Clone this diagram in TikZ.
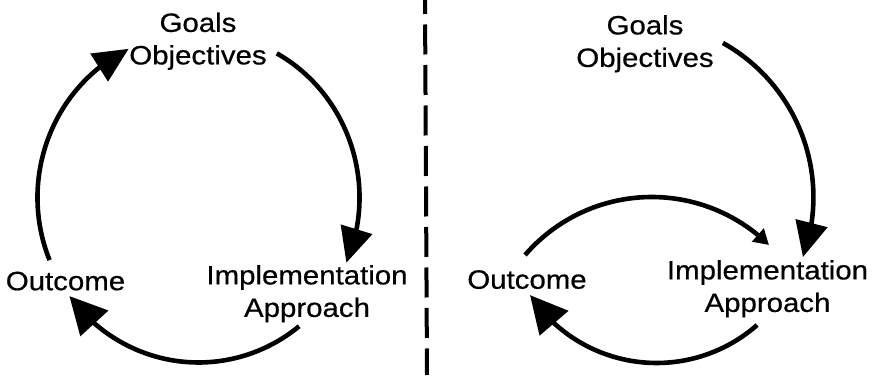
\documentclass[tikz,border=0pt]{standalone}
\usepackage{fontspec}
\setmainfont{Liberation Sans}[FakeStretch=1.11,FakeBold=0.6]
\usetikzlibrary{arrows.meta,bending,calc}

\tikzset{
  lbl/.style={inner sep=0pt, anchor=north, align=center,
              font=\fontsize{26.5}{32.5}\selectfont},
  flow/.style={line width=4.6pt, -{Triangle[length=35pt,width=32pt,flex]}},
  flowwide/.style={line width=4.6pt, -{Triangle[length=37pt,width=37pt,flex]}},
  flowsmall/.style={line width=4.6pt, -{Triangle[length=15pt,width=17pt,flex]}},
  divider/.style={line width=4pt, dash pattern=on 30pt off 10.5pt, dash phase=16pt}
}

\begin{document}
\begin{tikzpicture}[x=1pt,y=1pt]
  \fill[white] (0,0) rectangle (875,375);
  \useasboundingbox (0,0) rectangle (875,375);

  % ---------- left cycle ----------
  \node[lbl] (goalsL)   at (198,362.5) {Goals\\Objectives};
  \node[lbl] (implL)    at (307,110)   {Implementation\\Approach};
  \node[lbl] (outcomeL) at (65.5,103.5) {Outcome};

  \coordinate (cL) at (198.5,177.5);
  \coordinate (gL) at ($(cL)+(60.9:161 and 165)$);
  \coordinate (iL) at ($(cL)+(-51.3:161 and 165)$);
  \coordinate (oL) at ($(cL)+(202.3:161 and 165)$);

  \draw[flow]     (gL) arc[start angle=60.9,  end angle=-23.3, x radius=161, y radius=165];
  \draw[flowwide] (iL) arc[start angle=-51.3, end angle=-143.3, x radius=161, y radius=165];
  \draw[flow]     (oL) arc[start angle=202.3, end angle=115.7, x radius=161, y radius=165];

  % ---------- divider ----------
  \coordinate (divTop) at (425,375);
  \coordinate (divBot) at (427,0);
  \draw[divider] (divTop) -- (divBot);

  % ---------- right cycle ----------
  \node[lbl] (goalsR)   at (645,360)   {Goals\\Objectives};
  \node[lbl] (implR)    at (767.5,115) {Implementation\\Approach};
  \node[lbl] (outcomeR) at (527,105)   {Outcome};

  \coordinate (cR1) at (636.7,177.8);
  \coordinate (gR)  at ($(cR1)+(60.8:176.7)$);
  \draw[flow] (gR) arc[start angle=60.8, end angle=-19.8, radius=176.7];

  \coordinate (cR2) at (651.7,10.7);
  \coordinate (oR)  at ($(cR2)+(139.2:167.3)$);
  \draw[flowsmall] (oR) arc[start angle=139.2, end angle=45.5, radius=167.3];

  \coordinate (cR3) at (656.6,164);
  \coordinate (iR)  at ($(cR3)+(-48.6:152)$);
  \draw[flowwide] (iR) arc[start angle=-48.6, end angle=-146.4, radius=152];
\end{tikzpicture}
\end{document}
